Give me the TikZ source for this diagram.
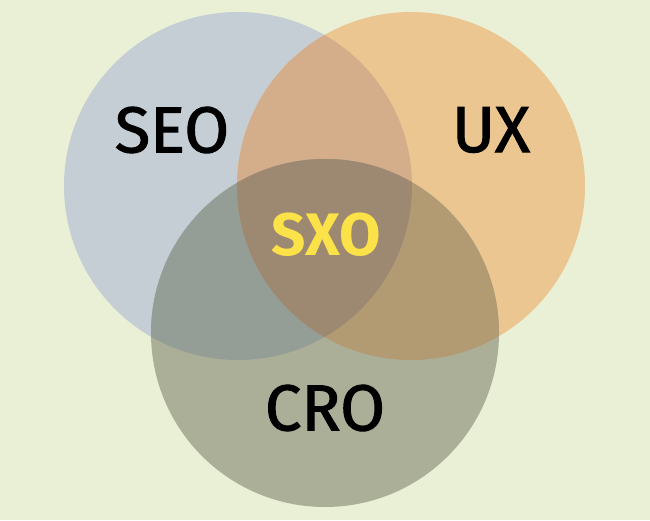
\documentclass[tikz,border=0pt]{standalone}
\usepackage{fontspec}
\setmainfont{Fira Sans}
\newfontfamily\lblfont[FakeBold=1.6]{Fira Sans}
\definecolor{bg}{RGB}{233,240,214}
\definecolor{seoc}{RGB}{196,206,212}
\definecolor{uxc}{RGB}{235,198,144}
\definecolor{croc}{RGB}{171,175,152}
\definecolor{seoux}{RGB}{212,173,139}
\definecolor{seocro}{RGB}{148,158,150}
\definecolor{uxcro}{RGB}{178,155,115}
\definecolor{allc}{RGB}{157,136,114}
\definecolor{sxoc}{RGB}{250,226,72}
\begin{document}
\begin{tikzpicture}[x=1pt,y=1pt,
  lbl/.style={font=\lblfont\fontsize{65}{65}\selectfont, text=black, inner sep=0pt}]
\fill[bg] (0,0) rectangle (650,520);
\useasboundingbox (0,0) rectangle (650,520);
\coordinate (cs) at (238,334);
\coordinate (cu) at (411,334);
\coordinate (cc) at (325,187);
\def\R{174}
\fill[seoc] (cs) circle (\R);
\fill[uxc] (cu) circle (\R);
\fill[croc] (cc) circle (\R);
\begin{scope}\clip (cs) circle (\R); \fill[seoux] (cu) circle (\R);\end{scope}
\begin{scope}\clip (cs) circle (\R); \fill[seocro] (cc) circle (\R);\end{scope}
\begin{scope}\clip (cu) circle (\R); \fill[uxcro] (cc) circle (\R);\end{scope}
\begin{scope}\clip (cs) circle (\R); \clip (cu) circle (\R); \fill[allc] (cc) circle (\R);\end{scope}
\node[lbl] (seo) at (172,390) {SEO};
\node[lbl] (ux) at (491,390) {UX};
\node[inner sep=0pt, text=sxoc, font=\fontsize{60}{60}\selectfont\bfseries] (sxo) at (326,285) {SXO};
\node[lbl] (cro) at (325,112) {CRO};
\end{tikzpicture}
\end{document}
